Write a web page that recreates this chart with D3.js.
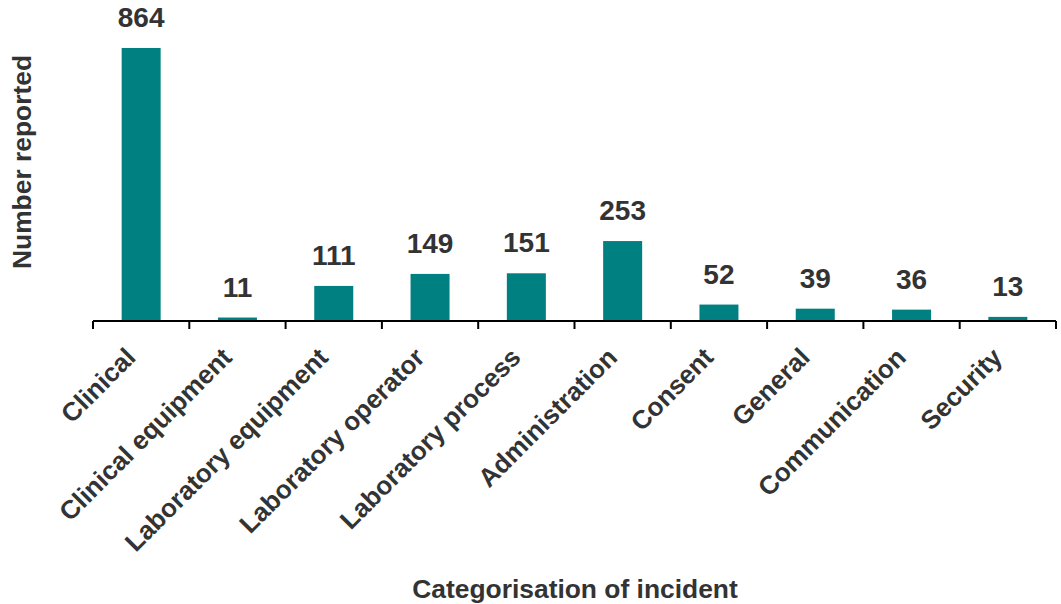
<!DOCTYPE html>
<html><head><meta charset="utf-8">
<script src="https://cdn.jsdelivr.net/npm/d3@7"></script>
<style>body{margin:0;background:#fff}svg{display:block}text{font-family:"Liberation Sans",Arial,sans-serif;font-weight:bold;fill:#333}</style>
</head><body>
<script>
const categories = ["Clinical","Clinical equipment","Laboratory equipment","Laboratory operator","Laboratory process","Administration","Consent","General","Communication","Security"];
const values = [864,11,111,149,151,253,52,39,36,13];
const yTitle = "Number reported";
const xTitle = "Categorisation of incident";

const W=1061,H=604;
const svg=d3.select("body").append("svg").attr("width",W).attr("height",H);
const x=d3.scaleBand().domain(categories).range([93,1056]).paddingInner(0.595).paddingOuter(0.2975);
const y=d3.scaleLinear().domain([0,1000]).range([321,5]);

svg.selectAll("rect.bar").data(values).join("rect").attr("class","bar")
  .attr("x",(d,i)=>x(categories[i])).attr("width",x.bandwidth())
  .attr("y",d=>y(d)).attr("height",d=>y(0)-y(d)).attr("fill","#008080");

svg.selectAll("text.val").data(values).join("text").attr("class","val")
  .attr("x",(d,i)=>x(categories[i])+x.bandwidth()/2).attr("y",d=>y(d)-21)
  .attr("text-anchor","middle").style("font-size","28px").text(d=>d);

// axis with ticks at category boundaries
const step = x.step();
const bounds = d3.range(categories.length+1).map(i=>93+i*step);
svg.append("line").attr("x1",93).attr("x2",1056).attr("y1",y(0)).attr("y2",y(0)).attr("stroke","#000").attr("stroke-width",2);
svg.selectAll("line.tick").data(bounds).join("line").attr("class","tick")
  .attr("x1",d=>d).attr("x2",d=>d).attr("y1",y(0)).attr("y2",y(0)+8).attr("stroke","#000").attr("stroke-width",2);

svg.selectAll("text.cat").data(categories).join("text").attr("class","cat")
  .attr("text-anchor","end").style("font-size","26px")
  .attr("transform",d=>`translate(${x(d)+x.bandwidth()/2-4},${y(0)+38}) rotate(-45)`)
  .text(d=>d);

svg.append("text").attr("text-anchor","middle").style("font-size","26.4px")
  .attr("transform","translate(31,162) rotate(-90)").text(yTitle);
svg.append("text").attr("text-anchor","middle").style("font-size","26.4px")
  .attr("x",575).attr("y",598).text(xTitle);
</script>
</body></html>
